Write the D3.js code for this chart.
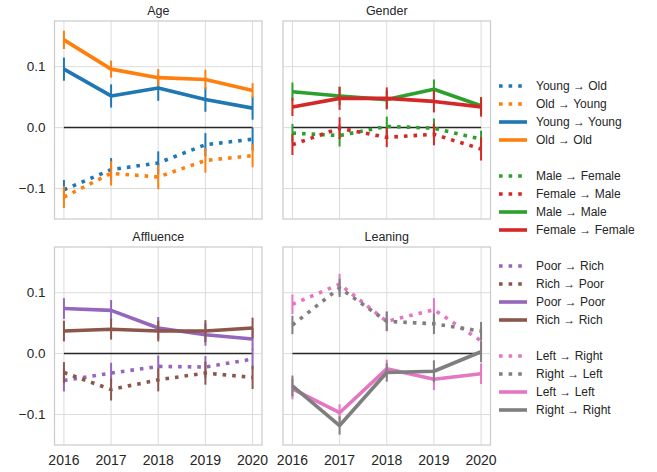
<!DOCTYPE html>
<html>
<head>
<meta charset="utf-8">
<script src="https://cdn.jsdelivr.net/npm/d3@7"></script>
<style>
  body { margin: 0; background: white; }
  text { font-family: "Liberation Sans", Arial, sans-serif; fill: #262626; }
</style>
</head>
<body>
<script>
// ---- data ----
years = [2016, 2017, 2018, 2019, 2020]
yTicks = [-0.1, 0.0, 0.1]

// Age
youngOld = [-0.102, -0.069, -0.058, -0.028, -0.019]
youngOldErr = [0.016, 0.019, 0.019, 0.019, 0.019]
oldYoung = [-0.114, -0.075, -0.081, -0.054, -0.046]
oldYoungErr = [0.018, 0.020, 0.020, 0.020, 0.019]
youngYoung = [0.096, 0.052, 0.065, 0.046, 0.032]
youngYoungErr = [0.019, 0.019, 0.021, 0.020, 0.019]
oldOld = [0.144, 0.096, 0.082, 0.079, 0.061]
oldOldErr = [0.015, 0.014, 0.014, 0.016, 0.012]

// Gender
maleFemale = [-0.009, -0.013, 0.002, -0.001, -0.019]
maleFemaleErr = [0.015, 0.018, 0.016, 0.016, 0.014]
femaleMale = [-0.028, -0.001, -0.016, -0.011, -0.035]
femaleMaleErr = [0.017, 0.018, 0.016, 0.018, 0.019]
maleMale = [0.059, 0.052, 0.046, 0.063, 0.036]
maleMaleErr = [0.015, 0.015, 0.015, 0.016, 0.014]
femaleFemale = [0.034, 0.048, 0.048, 0.043, 0.034]
femaleFemaleErr = [0.015, 0.019, 0.018, 0.018, 0.016]

// Affluence
poorRich = [-0.044, -0.032, -0.021, -0.022, -0.009]
poorRichErr = [0.018, 0.017, 0.018, 0.018, 0.017]
richPoor = [-0.031, -0.059, -0.043, -0.032, -0.039]
richPoorErr = [0.017, 0.018, 0.019, 0.019, 0.019]
poorPoor = [0.074, 0.071, 0.042, 0.031, 0.024]
poorPoorErr = [0.017, 0.017, 0.018, 0.018, 0.018]
richRich = [0.037, 0.040, 0.037, 0.037, 0.042]
richRichErr = [0.017, 0.017, 0.017, 0.018, 0.017]

// Leaning
leftRight = [0.081, 0.114, 0.053, 0.072, 0.021]
leftRightErr = [0.016, 0.017, 0.016, 0.019, 0.016]
rightLeft = [0.047, 0.108, 0.053, 0.049, 0.037]
rightLeftErr = [0.015, 0.015, 0.016, 0.017, 0.015]
leftLeft = [-0.058, -0.097, -0.025, -0.042, -0.033]
leftLeftErr = [0.017, 0.014, 0.015, 0.018, 0.017]
rightRight = [-0.053, -0.118, -0.031, -0.029, 0.003]
rightRightErr = [0.017, 0.015, 0.015, 0.018, 0.017]

panels = [
  {title: "Age", col: 0, row: 0, series: [
    {name: "Young \u2192 Old", v: youngOld, e: youngOldErr, color: "#1f77b4", dot: true},
    {name: "Old \u2192 Young", v: oldYoung, e: oldYoungErr, color: "#ff7f0e", dot: true},
    {name: "Young \u2192 Young", v: youngYoung, e: youngYoungErr, color: "#1f77b4", dot: false},
    {name: "Old \u2192 Old", v: oldOld, e: oldOldErr, color: "#ff7f0e", dot: false}]},
  {title: "Gender", col: 1, row: 0, series: [
    {name: "Male \u2192 Female", v: maleFemale, e: maleFemaleErr, color: "#2ca02c", dot: true},
    {name: "Female \u2192 Male", v: femaleMale, e: femaleMaleErr, color: "#d62728", dot: true},
    {name: "Male \u2192 Male", v: maleMale, e: maleMaleErr, color: "#2ca02c", dot: false},
    {name: "Female \u2192 Female", v: femaleFemale, e: femaleFemaleErr, color: "#d62728", dot: false}]},
  {title: "Affluence", col: 0, row: 1, series: [
    {name: "Poor \u2192 Rich", v: poorRich, e: poorRichErr, color: "#9467bd", dot: true},
    {name: "Rich \u2192 Poor", v: richPoor, e: richPoorErr, color: "#8c564b", dot: true},
    {name: "Poor \u2192 Poor", v: poorPoor, e: poorPoorErr, color: "#9467bd", dot: false},
    {name: "Rich \u2192 Rich", v: richRich, e: richRichErr, color: "#8c564b", dot: false}]},
  {title: "Leaning", col: 1, row: 1, series: [
    {name: "Left \u2192 Right", v: leftRight, e: leftRightErr, color: "#e377c2", dot: true},
    {name: "Right \u2192 Left", v: rightLeft, e: rightLeftErr, color: "#7f7f7f", dot: true},
    {name: "Left \u2192 Left", v: leftLeft, e: leftLeftErr, color: "#e377c2", dot: false},
    {name: "Right \u2192 Right", v: rightRight, e: rightRightErr, color: "#7f7f7f", dot: false}]}
]

// ---- layout ----
W = 657
H = 472
panelLeft = [54.5, 283]
panelTop = [21, 247]
panelW = 207.5
panelH = 198
lineW = 3.6
dotDash = "3.6,6"

var svg = d3.select("body").append("svg")
    .attr("width", W)
    .attr("height", H)

var y = d3.scaleLinear().domain([-0.15, 0.175]).range([panelH, 0])
var x = d3.scaleLinear().domain([2015.8, 2020.2]).range([0, panelW])

var line = d3.line()
    .x(function (d, i) { return x(years[i]) })
    .y(function (d) { return y(d) })

panels.forEach(function (p) {
    var g = svg.append("g")
        .attr("transform", "translate(" + panelLeft[p.col] + "," + panelTop[p.row] + ")")

    // grid
    g.selectAll(".vgrid").data(years).enter().append("line")
        .attr("x1", function (d) { return x(d) }).attr("x2", function (d) { return x(d) })
        .attr("y1", 0).attr("y2", panelH)
        .attr("stroke", "#dcdcdc").attr("stroke-width", 1)
    g.selectAll(".hgrid").data(yTicks).enter().append("line")
        .attr("x1", 0).attr("x2", panelW)
        .attr("y1", function (d) { return y(d) }).attr("y2", function (d) { return y(d) })
        .attr("stroke", "#dcdcdc").attr("stroke-width", 1)

    // frame
    g.append("rect")
        .attr("x", 0).attr("y", 0).attr("width", panelW).attr("height", panelH)
        .attr("fill", "none").attr("stroke", "#cccccc").attr("stroke-width", 1.25)

    // zero line
    g.append("line")
        .attr("x1", x(years[0])).attr("x2", x(years[years.length - 1]))
        .attr("y1", y(0)).attr("y2", y(0))
        .attr("stroke", "#262626").attr("stroke-width", 1.5)

    // series
    p.series.forEach(function (s) {
        g.append("path")
            .attr("d", line(s.v))
            .attr("fill", "none")
            .attr("stroke", s.color)
            .attr("stroke-width", lineW)
            .attr("stroke-dasharray", s.dot ? dotDash : null)
            .attr("stroke-linejoin", "round")
        g.selectAll(null).data(s.v).enter().append("line")
            .attr("x1", function (d, i) { return x(years[i]) })
            .attr("x2", function (d, i) { return x(years[i]) })
            .attr("y1", function (d, i) { return y(d - s.e[i]) })
            .attr("y2", function (d, i) { return y(d + s.e[i]) })
            .attr("stroke", s.color)
            .attr("stroke-width", 2)
    })

    // title
    g.append("text")
        .attr("x", panelW / 2).attr("y", -6)
        .attr("text-anchor", "middle")
        .attr("font-size", "12.5px")
        .text(p.title)

    // y tick labels (left column only)
    if (p.col == 0) {
        g.selectAll(".ylab").data(yTicks).enter().append("text")
            .attr("x", -9).attr("y", function (d) { return y(d) })
            .attr("dy", "0.35em")
            .attr("text-anchor", "end")
            .attr("font-size", "13.5px")
            .text(function (d) { return d3.format(".1f")(d).replace("-", "\u2212") })
    }
    // x tick labels (bottom row only)
    if (p.row == 1) {
        g.selectAll(".xlab").data(years).enter().append("text")
            .attr("x", function (d) { return x(d) }).attr("y", panelH + 20)
            .attr("text-anchor", "middle")
            .attr("font-size", "14px")
            .text(function (d) { return d })
    }
})

// ---- legend ----
var legendItems = []
panels.forEach(function (p, pi) {
    if (pi > 0) legendItems.push(null)
    p.series.forEach(function (s) { legendItems.push(s) })
})

var legend = svg.append("g").attr("transform", "translate(499,86)")
legendItems.forEach(function (s, i) {
    if (s == null) return
    var ly = i * 18
    legend.append("line")
        .attr("x1", 0).attr("x2", 28)
        .attr("y1", ly).attr("y2", ly)
        .attr("stroke", s.color)
        .attr("stroke-width", lineW)
        .attr("stroke-dasharray", s.dot ? dotDash : null)
    legend.append("text")
        .attr("x", 37).attr("y", ly)
        .attr("dy", "0.35em")
        .attr("font-size", "12px")
        .text(s.name)
})
</script>
</body>
</html>
